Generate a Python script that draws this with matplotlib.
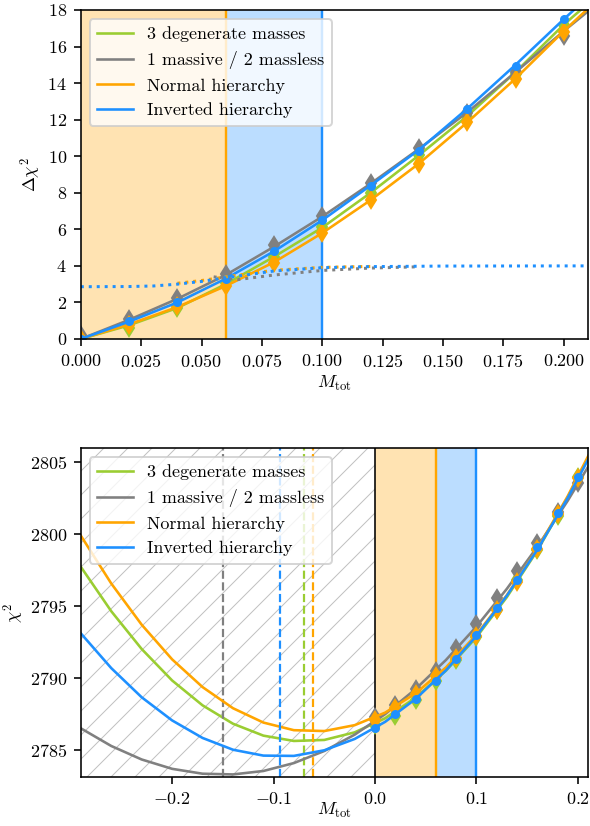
import numpy as np
import matplotlib
matplotlib.use("Agg")
import matplotlib.pyplot as plt

plt.rcParams["font.family"] = "serif"
plt.rcParams["font.serif"] = ["cmr10"]
plt.rcParams["mathtext.fontset"] = "cm"
plt.rcParams["axes.formatter.use_mathtext"] = True
plt.rcParams["font.size"] = 9
plt.rcParams["hatch.linewidth"] = 0.5

labels = ["3 degenerate masses", "1 massive / 2 massless",
          "Normal hierarchy", "Inverted hierarchy"]
colors = ["yellowgreen", "gray", "orange", "dodgerblue"]
markers = ["d", "d", "d", "o"]

# top panel: delta chi2 vs Mtot
mtot = [0.0, 0.02, 0.04, 0.06, 0.08, 0.10, 0.12, 0.14, 0.16, 0.18, 0.20]
dchi_deg = [0.0, 0.62, 1.68, 3.05, 4.5, 6.1, 8.0, 10.05, 12.15, 14.5, 17.2]
dchi_one = [0.2, 1.1, 2.25, 3.55, 5.12, 6.75, 8.55, 10.43, 12.35, 14.6, 16.6]
dchi_nh = [0.0, 0.78, 1.78, 2.9, 4.15, 5.8, 7.6, 9.57, 11.85, 14.2, 16.8]
dchi_ih = [0.0, 0.98, 2.0, 3.3, 4.8, 6.5, 8.38, 10.3, 12.6, 14.95, 17.5]

mfit = [0.0, 0.02, 0.04, 0.06, 0.08, 0.10, 0.12, 0.14, 0.16, 0.18, 0.20, 0.22]
fit_deg = [0.0, 0.75, 1.7, 3.0, 4.5, 6.1, 8.0, 10.05, 12.2, 14.6, 17.2, 19.5]
fit_one = [0.0, 1.05, 2.2, 3.5, 5.05, 6.7, 8.5, 10.4, 12.4, 14.6, 16.85, 19.0]
fit_nh = [0.0, 0.8, 1.75, 2.9, 4.2, 5.8, 7.6, 9.6, 11.85, 14.25, 16.85, 19.3]
fit_ih = [0.0, 0.95, 2.0, 3.3, 4.8, 6.5, 8.4, 10.35, 12.6, 15.0, 17.5, 19.9]

# dotted curves
dot_ih_x = [0.0, 0.02, 0.03, 0.04, 0.05, 0.06, 0.08, 0.10, 0.12, 0.15, 0.21]
dot_ih_y = [2.86, 2.87, 2.9, 3.0, 3.15, 3.35, 3.72, 3.9, 3.96, 3.99, 4.0]
dot_nh_x = [0.04, 0.05, 0.06, 0.08, 0.10, 0.12]
dot_nh_y = [3.05, 3.2, 3.4, 3.76, 3.92, 3.97]
dot_one_x = [0.055, 0.065, 0.08, 0.10, 0.12, 0.14]
dot_one_y = [3.4, 3.25, 3.5, 3.75, 3.88, 3.95]

# bottom panel: chi2 vs Mtot
mgrid = [-0.29, -0.26, -0.23, -0.20, -0.17, -0.14, -0.11, -0.08, -0.05,
         -0.02, 0.01, 0.04, 0.07, 0.10, 0.13, 0.16, 0.19, 0.22]
chi_fit_deg = [2797.73, 2794.64, 2792.01, 2789.82, 2788.09, 2786.81, 2785.98,
               2785.61, 2785.68, 2786.21, 2787.19, 2788.62, 2790.50, 2792.83,
               2795.62, 2798.86, 2802.55, 2806.69]
chi_fit_one = [2786.49, 2785.26, 2784.32, 2783.67, 2783.33, 2783.28, 2783.52,
               2784.07, 2784.91, 2786.05, 2787.48, 2789.22, 2791.25, 2793.57,
               2796.20, 2799.12, 2802.33, 2805.85]
chi_fit_nh = [2799.90, 2796.57, 2793.70, 2791.29, 2789.36, 2787.89, 2786.89,
              2786.36, 2786.30, 2786.71, 2787.58, 2788.92, 2790.73, 2793.01,
              2795.76, 2798.97, 2802.65, 2806.80]
chi_fit_ih = [2793.10, 2790.68, 2788.65, 2787.04, 2785.82, 2785.00, 2784.59,
              2784.57, 2784.96, 2785.75, 2786.94, 2788.53, 2790.53, 2792.92,
              2795.72, 2798.92, 2802.52, 2806.52]

chi_deg = [2786.75, 2787.37, 2788.43, 2789.8, 2791.25, 2792.85, 2794.75,
           2796.8, 2798.9, 2801.25, 2803.95]
chi_one = [2787.3, 2788.1, 2789.25, 2790.5, 2792.08, 2793.75, 2795.58,
           2797.45, 2799.42, 2801.55, 2803.56]
chi_nh = [2787.1, 2787.88, 2788.88, 2790.1, 2791.35, 2792.95, 2794.72,
          2796.68, 2798.98, 2801.4, 2803.9]
chi_ih = [2786.5, 2787.48, 2788.5, 2789.8, 2791.3, 2793.0, 2794.88,
          2796.8, 2799.1, 2801.45, 2804.0]

best_fit = [-0.070, -0.150, -0.061, -0.094]

fig = plt.figure(figsize=(590/144, 826/144))
ax1 = fig.add_axes([0.137, 0.5896, 0.8596, 0.3983])
ax2 = fig.add_axes([0.137, 0.0593, 0.8596, 0.3983])

# top
ax1.axvspan(0, 0.06, color="orange", alpha=0.3, lw=0)
ax1.axvspan(0.06, 0.1, color="dodgerblue", alpha=0.3, lw=0)
ax1.axvline(0.06, color="orange", lw=1.2)
ax1.axvline(0.1, color="dodgerblue", lw=1.2)

fits = [fit_deg, fit_one, fit_nh, fit_ih]
pts = [dchi_deg, dchi_one, dchi_nh, dchi_ih]
for f, p, c, m, lab in zip(fits, pts, colors, markers, labels):
    ax1.plot(mfit, f, color=c, lw=1.3, label=lab)
    ax1.plot(mtot, p, ls="none", marker=m, color=c, ms=5.5 if m == "d" else 3.5)

ax1.plot(dot_one_x, dot_one_y, color="gray", ls=":", lw=1.5)
ax1.plot(dot_nh_x, dot_nh_y, color="orange", ls=":", lw=1.5)
ax1.plot(dot_ih_x, dot_ih_y, color="dodgerblue", ls=":", lw=1.5)

ax1.set_xlim(0, 0.21)
ax1.set_ylim(0, 18)
ax1.set_yticks(np.arange(0, 19, 2))
ax1.set_xlabel(r"$M_\mathrm{tot}$", labelpad=2)
ax1.set_ylabel(r"$\Delta\chi^2$", labelpad=2)
ax1.legend(loc="upper left")

# bottom
ax2.axvspan(-0.29, 0, facecolor="none", edgecolor="silver", hatch="//", lw=0)
ax2.axvline(0, color="black", lw=0.8)
ax2.axvspan(0, 0.06, color="orange", alpha=0.3, lw=0)
ax2.axvspan(0.06, 0.1, color="dodgerblue", alpha=0.3, lw=0)
ax2.axvline(0.06, color="orange", lw=1.2)
ax2.axvline(0.1, color="dodgerblue", lw=1.2)

chi_fits = [chi_fit_deg, chi_fit_one, chi_fit_nh, chi_fit_ih]
chi_pts = [chi_deg, chi_one, chi_nh, chi_ih]
for f, p, c, m, b, lab in zip(chi_fits, chi_pts, colors, markers, best_fit, labels):
    ax2.plot(mgrid, f, color=c, lw=1.3, label=lab)
    ax2.plot(mtot, p, ls="none", marker=m, color=c, ms=5.5 if m == "d" else 3.5)
    ax2.axvline(b, color=c, ls="--", lw=1.1)

ax2.set_xlim(-0.29, 0.21)
ax2.set_ylim(2783.1, 2806.0)
ax2.set_xticks([-0.2, -0.1, 0.0, 0.1, 0.2])
ax2.set_yticks([2785, 2790, 2795, 2800, 2805])
ax2.set_xlabel(r"$M_\mathrm{tot}$", labelpad=-3)
ax2.set_ylabel(r"$\chi^2$", labelpad=2)
ax2.legend(loc="upper left")

fig.savefig("out.png", dpi=144)
